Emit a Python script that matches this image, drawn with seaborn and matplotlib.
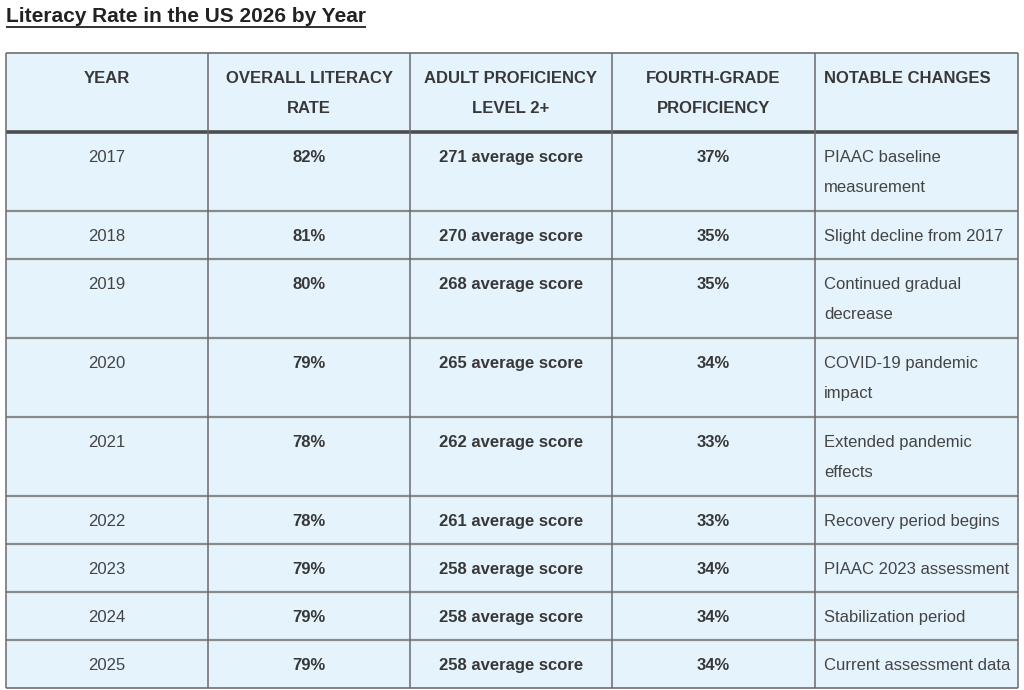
import pandas as pd
import seaborn as sns
import matplotlib.pyplot as plt
from matplotlib.patches import Rectangle

# table content
headers = ["YEAR", "OVERALL LITERACY\nRATE", "ADULT PROFICIENCY\nLEVEL 2+",
           "FOURTH-GRADE\nPROFICIENCY", "NOTABLE CHANGES"]
years = ["2017", "2018", "2019", "2020", "2021", "2022", "2023", "2024", "2025"]
overall_rate = [82, 81, 80, 79, 78, 78, 79, 79, 79]
adult_score = [271, 270, 268, 265, 262, 261, 258, 258, 258]
fourth_grade = [37, 35, 35, 34, 33, 33, 34, 34, 34]
notes = ["PIAAC baseline\nmeasurement", "Slight decline from 2017",
         "Continued gradual\ndecrease", "COVID-19 pandemic\nimpact",
         "Extended pandemic\neffects", "Recovery period begins",
         "PIAAC 2023 assessment", "Stabilization period",
         "Current assessment data"]

df = pd.DataFrame({
    "year": years,
    "overall": [f"{v}%" for v in overall_rate],
    "adult": [f"{v} average score" for v in adult_score],
    "fourth": [f"{v}%" for v in fourth_grade],
    "notes": notes,
})

sns.set_theme(style="white")
plt.rcParams['font.family'] = ['Liberation Sans', 'DejaVu Sans']

fig = plt.figure(figsize=(10.24, 6.9), dpi=100)
ax = fig.add_axes([0, 0, 1, 1])
ax.set_xlim(0, 1024)
ax.set_ylim(690, 0)
ax.axis("off")

# layout (pixels)
col_edges = [6, 208, 410, 612, 815, 1018]
top = 53
line_gap = 30
fill = "#e5f3fc"

def row_height(n_lines):
    return 17 + 31 * n_lines

def draw_row(y0, cells, bolds, n_lines):
    h = row_height(n_lines)
    ax.add_patch(Rectangle((col_edges[0], y0), col_edges[-1] - col_edges[0], h,
                           facecolor=fill, edgecolor="none", zorder=1))
    for i, txt in enumerate(cells):
        left, right = col_edges[i], col_edges[i + 1]
        if i == 4:
            x, ha = left + 9, "left"
        else:
            x, ha = (left + right) / 2, "center"
        for k, line in enumerate(txt.split("\n")):
            ax.text(x, y0 + 30 + k * line_gap, line, ha=ha, va="baseline",
                    fontsize=12, fontweight="bold" if bolds[i] else "normal",
                    color="#383838" if bolds[i] else "#444444", zorder=3)
    return y0 + h

# header
y = draw_row(top, headers, [True] * 5, 2)
header_bottom = y

row_bounds = []
for _, r in df.iterrows():
    n = max(len(str(c).split("\n")) for c in r)
    row_bounds.append(y)
    y = draw_row(y, list(r), [False, True, True, True, False], n)
bottom = y

# grid lines
for yb in row_bounds[1:]:
    ax.hlines(yb, col_edges[0], col_edges[-1], color="#8a8a8a", lw=1.6, zorder=2)
ax.hlines(header_bottom, col_edges[0], col_edges[-1], color="#4d4d4d", lw=2.6, zorder=2)
ax.hlines([top, bottom], col_edges[0], col_edges[-1], color="#7a7a7a", lw=1.3, zorder=2)
ax.vlines(col_edges, top, bottom, color="#6a6a6a", lw=1.1, zorder=2)

# title with underline
title = ax.text(6, 17, "Literacy Rate in the US 2026 by Year", ha="left", va="center",
                fontsize=15, fontweight="bold", color="#222222")
fig.canvas.draw()
bb = title.get_window_extent().transformed(ax.transData.inverted())
ax.hlines(27, bb.x0, bb.x1, color="#222222", lw=1.3)

plt.savefig("out.png", dpi=100)
